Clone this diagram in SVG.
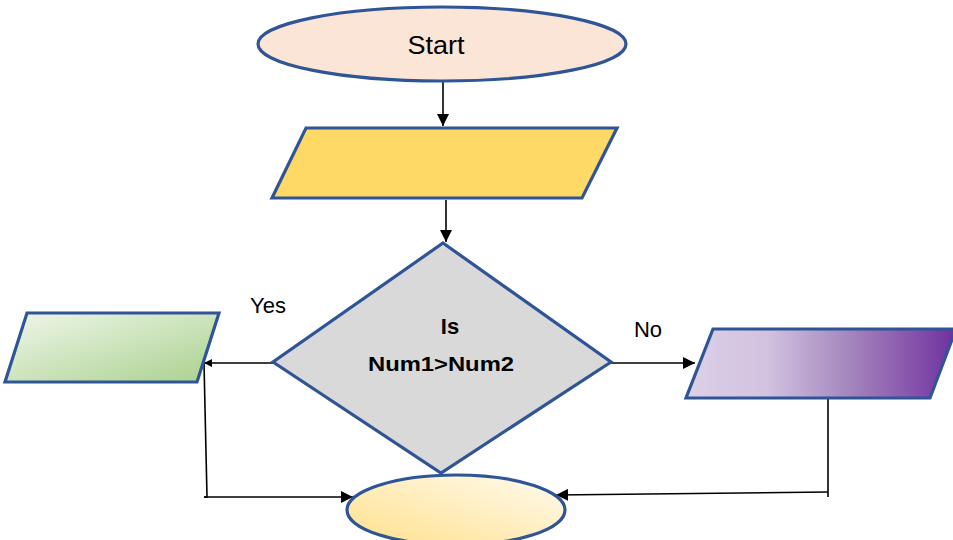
<svg xmlns="http://www.w3.org/2000/svg" width="953" height="540" viewBox="0 0 953 540">
<defs>
<style>
.shape{stroke:#2F5597;stroke-width:3.2;}
.conn{stroke:#000;stroke-width:1.6;fill:none;}
.lbl{font-family:"Liberation Sans","Open Sans",Arial,sans-serif;fill:#000;}
</style>
<marker id="ah" viewBox="0 0 10 10" refX="10" refY="5" markerWidth="8" markerHeight="8" markerUnits="userSpaceOnUse" orient="auto">
<path d="M0,0 L10,5 L0,10 z" fill="#000"/>
</marker>
<marker id="ahb" viewBox="0 0 10 10" refX="10" refY="5" markerWidth="12" markerHeight="12" markerUnits="userSpaceOnUse" orient="auto">
<path d="M0,0 L10,5 L0,10 z" fill="#000"/>
</marker>
<linearGradient id="gGreen" x1="0" y1="0" x2="1" y2="1">
<stop offset="0" stop-color="#F0F6EA"/>
<stop offset="1" stop-color="#A9D18E"/>
</linearGradient>
<linearGradient id="gPurple" x1="0" y1="0" x2="1" y2="0">
<stop offset="0" stop-color="#DCD0E8"/>
<stop offset="0.3" stop-color="#D2C2E0"/>
<stop offset="0.6" stop-color="#A587BE"/>
<stop offset="1" stop-color="#7030A0"/>
</linearGradient>
<linearGradient id="gYellow" x1="0" y1="1" x2="1" y2="0">
<stop offset="0" stop-color="#FFE08A"/>
<stop offset="1" stop-color="#FFFBF0"/>
</linearGradient>
</defs>

<g id="connectors">
<line class="conn" x1="443" y1="82" x2="443" y2="126" marker-end="url(#ahb)"/>
<line class="conn" x1="446" y1="200" x2="446" y2="242" marker-end="url(#ahb)"/>
<line class="conn" x1="273" y1="363" x2="204" y2="363" marker-end="url(#ah)"/>
<line class="conn" x1="611" y1="363" x2="695" y2="363" marker-end="url(#ahb)"/>
<polyline class="conn" points="204,363 207,497 204,497"/>
<line class="conn" x1="204" y1="497" x2="353" y2="497" marker-end="url(#ahb)"/>
<line class="conn" x1="828" y1="398" x2="828" y2="497"/>
<line class="conn" x1="828" y1="492" x2="556" y2="495" marker-end="url(#ahb)"/>
</g>

<g id="start">
<ellipse class="shape" cx="442" cy="44" rx="184" ry="37" fill="#FBE5D6"/>
<text class="lbl" x="436" y="54" font-size="25" text-anchor="middle" textLength="57" lengthAdjust="spacingAndGlyphs">Start</text>
</g>

<g id="input">
<polygon class="shape" points="306,128 617,128 582,198 272,198" fill="#FFD966"/>
</g>

<g id="decision">
<polygon class="shape" points="443,243 611,362 441,473 273,362" fill="#D9D9D9"/>
<text class="lbl" x="450" y="334" font-size="22" font-weight="bold" text-anchor="middle">Is</text>
<text class="lbl" x="441" y="371" font-size="21" font-weight="bold" text-anchor="middle" textLength="146" lengthAdjust="spacingAndGlyphs">Num1&gt;Num2</text>
</g>

<g id="yes-label">
<text class="lbl" x="268" y="313" font-size="22" text-anchor="middle">Yes</text>
</g>
<g id="no-label">
<text class="lbl" x="648" y="337" font-size="22" text-anchor="middle">No</text>
</g>

<g id="output-yes">
<polygon class="shape" points="27,313 219,313 197,382 5,382" fill="url(#gGreen)"/>
</g>

<g id="output-no">
<polygon class="shape" points="713,329 956,329 930,398 686,398" fill="url(#gPurple)"/>
</g>

<g id="end">
<ellipse class="shape" cx="456" cy="510" rx="109" ry="35" fill="url(#gYellow)"/>
</g>
</svg>
